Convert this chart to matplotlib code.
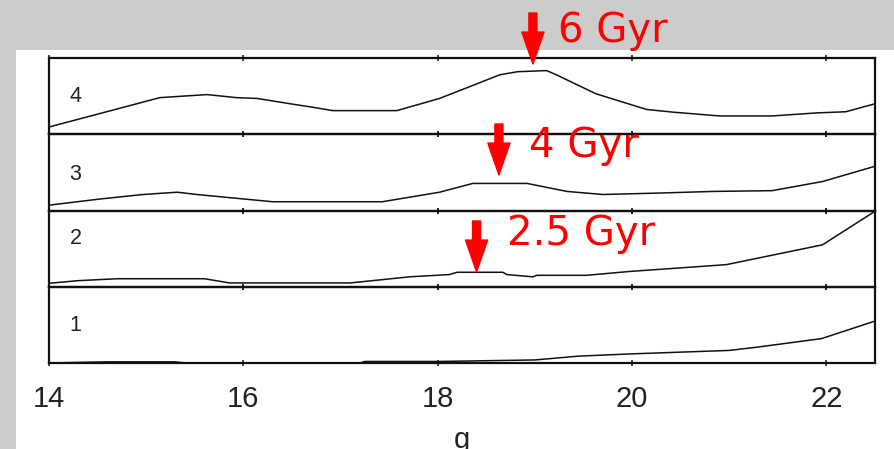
import matplotlib
matplotlib.use("Agg")
import matplotlib.pyplot as plt
from matplotlib.patches import Rectangle

# ---- data ----
panel_labels = ["1", "2", "3", "4"]

g1 = [14.0, 14.6, 15.3, 15.4, 17.2, 17.25, 18.0, 19.0, 19.45, 20.0, 21.0, 21.3, 21.95, 22.5]
v1 = [0.0, 0.015, 0.015, 0.0, 0.0, 0.02, 0.02, 0.04, 0.09, 0.12, 0.165, 0.21, 0.32, 0.55]

g2 = [14.0, 14.3, 14.7, 15.6, 15.86, 17.1, 17.71, 18.12, 18.2, 18.67, 18.71, 18.98, 19.02,
      19.53, 19.97, 20.97, 21.96, 22.5]
v2 = [0.045, 0.08, 0.105, 0.105, 0.05, 0.05, 0.13, 0.16, 0.19, 0.19, 0.16, 0.13, 0.15,
      0.15, 0.20, 0.29, 0.55, 0.99]

g3 = [14.0, 14.52, 14.97, 15.32, 15.52, 15.93, 16.3, 17.43, 18.02, 18.36, 18.92, 19.33,
      19.7, 20.31, 20.83, 21.44, 21.96, 22.5]
v3 = [0.07, 0.15, 0.21, 0.24, 0.21, 0.16, 0.115, 0.115, 0.24, 0.355, 0.355, 0.25,
      0.21, 0.23, 0.25, 0.26, 0.38, 0.58]

g4 = [14.0, 15.14, 15.38, 15.63, 15.93, 16.14, 16.48, 16.71, 16.92, 17.58, 18.02, 18.64,
      18.82, 19.12, 19.22, 19.63, 20.15, 20.42, 20.9, 21.44, 21.9, 22.2, 22.5]
v4 = [0.095, 0.48, 0.50, 0.52, 0.48, 0.47, 0.40, 0.355, 0.31, 0.31, 0.47, 0.78,
      0.82, 0.835, 0.78, 0.53, 0.325, 0.29, 0.24, 0.24, 0.28, 0.295, 0.40]

xticks = [14, 16, 18, 20, 22]
ages = ["6 Gyr", "4 Gyr", "2.5 Gyr"]
turnoff_g = [18.98, 18.63, 18.40]

# ---- figure ----
W, H = 895, 449
fig = plt.figure(figsize=(W / 100, H / 100), dpi=100, facecolor="#cccccc")
fig.add_artist(Rectangle((16 / W, 0), (894 - 16) / W, 1 - 50 / H,
                         transform=fig.transFigure, facecolor="white",
                         edgecolor="none", zorder=0))

left_px, right_px = 49, 875
top_px, bot_px = 58, 363
ph = (bot_px - top_px) / 4.0

series = [(g1, v1), (g2, v2), (g3, v3), (g4, v4)]
label_pos = [0.49, 0.63, 0.47, 0.49]
axes = []
for i, (gx, vy) in enumerate(series):
    y0 = bot_px - (i + 1) * ph
    ax = fig.add_axes([left_px / W, 1 - (y0 + ph) / H, (right_px - left_px) / W, ph / H])
    ax.set_facecolor("none")
    ax.plot(gx, vy, color="#111111", lw=1.1)
    ax.set_xlim(14, 22.5)
    ax.set_ylim(0, 1)
    ax.set_yticks([])
    ax.set_xticks(xticks)
    ax.tick_params(axis="x", direction="inout", length=5, width=1.2, top=True,
                   bottom=True, labelbottom=(i == 0), labelsize=21, pad=13,
                   colors="#222222")
    for lab in ax.get_xticklabels():
        lab.set_family("Liberation Sans")
    for sp in ax.spines.values():
        sp.set_linewidth(1.6)
        sp.set_color("#111111")
    ax.text(0.032, label_pos[i], panel_labels[i], transform=ax.transAxes,
            fontsize=15.5, family="Liberation Sans", ha="center", va="center",
            color="#222222")
    if i == 0:
        ax.set_xlabel("g", fontsize=21, family="Liberation Sans", labelpad=10,
                      color="#222222")
    axes.append(ax)

top_ax = axes[-1]
arrow_px = [(13, 64), (124, 175), (221, 272)]
text_px = [(558, 42), (529, 157), (507, 245)]
for age, gx, (yt, yb), (tx, ty) in zip(ages, turnoff_g, arrow_px, text_px):
    top_ax.annotate("", xy=(gx, H - yb), xycoords=("data", "figure pixels"),
                    xytext=(gx, H - yt), textcoords=("data", "figure pixels"),
                    annotation_clip=False,
                    arrowprops=dict(arrowstyle="simple,head_length=1.15,head_width=0.8,tail_width=0.29",
                                    color="red", mutation_scale=20, shrinkA=0, shrinkB=0))
    fig.text(tx / W, 1 - ty / H, age, color="red", fontsize=29, ha="left",
             va="baseline", zorder=10)

fig.savefig("out.png", dpi=100, facecolor=fig.get_facecolor())
